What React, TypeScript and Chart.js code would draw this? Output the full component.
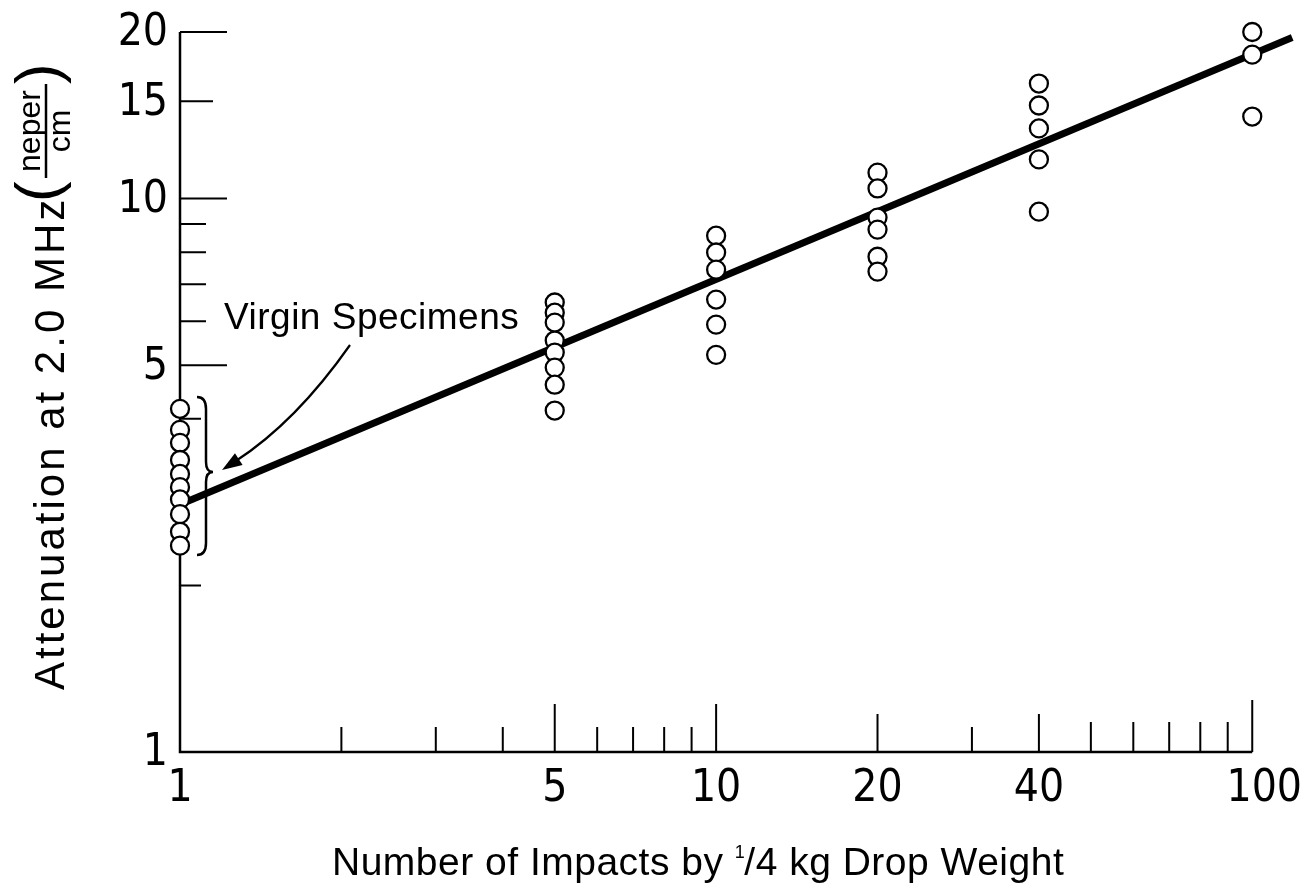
import React, { useEffect, useRef } from "react";
import { Chart, registerables } from "chart.js";

Chart.register(...registerables);

// ---- data ----
const impactCounts = [1, 5, 10, 20, 40, 100];
const attenAt1 = [4.17, 3.82, 3.62, 3.37, 3.18, 3.01, 2.86, 2.69, 2.5, 2.36];
const attenAt5 = [6.49, 6.22, 5.97, 5.54, 5.27, 4.95, 4.61, 4.14];
const attenAt10 = [8.57, 7.99, 7.44, 6.57, 5.92, 5.22];
const attenAt20 = [11.14, 10.43, 9.24, 8.79, 7.85, 7.38];
const attenAt40 = [16.14, 14.73, 13.39, 11.77, 9.47];
const attenAt100 = [20.0, 18.2, 14.07];
const fitX = [1, 118.7];
const fitY = [2.8, 19.55];

const xTickLabels = [1, 5, 10, 20, 40, 100];
const xMajorTicks = [5, 10, 20, 40, 100];
const xMinorTicks = [2, 3, 4, 6, 7, 8, 9, 30, 50, 60, 70, 80, 90];
const yTickLabels = [1, 5, 10, 15, 20];
const yMajorTicks = [5, 10, 20];
const yMidTicks = [15];
const yMinorTicks = [2, 4, 6, 7, 8, 9];

const xTitleA = "Number of Impacts by ";
const xTitleSup = "1";
const xTitleB = "/4 kg Drop Weight";
const yTitle = "Attenuation at 2.0 MHz";
const yUnitNum = "neper";
const yUnitDen = "cm";
const annotationText = "Virgin Specimens";

const FONT = '"Liberation Sans", Arial, sans-serif';
const TICK_FONT = '"Liberation Sans Narrow", "DejaVu Sans Condensed", "Liberation Sans", sans-serif';

const groups = [attenAt1, attenAt5, attenAt10, attenAt20, attenAt40, attenAt100];

function xMajorLen(v: number) {
  if (v === 100) return 52;
  if (v === 20 || v === 40) return 38;
  return 48;
}
function xMinorLen(v: number) {
  return v > 40 ? 30 : 25;
}

const paperPlugin = {
  id: "paperAxes",
  beforeDatasetsDraw(chart: any) {
    const ctx: CanvasRenderingContext2D = chart.ctx;
    const xs = chart.scales.x;
    const ys = chart.scales.y;
    const X = (v: number) => xs.getPixelForValue(v);
    const Y = (v: number) => ys.getPixelForValue(v);
    const x0 = X(1);
    const y0 = Y(1);
    ctx.save();
    ctx.strokeStyle = "#000";
    ctx.fillStyle = "#000";

    // axis lines
    ctx.lineWidth = 2.5;
    ctx.beginPath();
    ctx.moveTo(x0, Y(20));
    ctx.lineTo(x0, y0);
    ctx.lineTo(X(100), y0);
    ctx.stroke();

    // x ticks
    ctx.lineWidth = 2;
    ctx.beginPath();
    xMajorTicks.forEach((v) => {
      ctx.moveTo(X(v), y0);
      ctx.lineTo(X(v), y0 - xMajorLen(v));
    });
    xMinorTicks.forEach((v) => {
      ctx.moveTo(X(v), y0);
      ctx.lineTo(X(v), y0 - xMinorLen(v));
    });
    // y ticks
    yMajorTicks.forEach((v) => {
      ctx.moveTo(x0, Y(v));
      ctx.lineTo(x0 + 47, Y(v));
    });
    yMidTicks.forEach((v) => {
      ctx.moveTo(x0, Y(v));
      ctx.lineTo(x0 + 33, Y(v));
    });
    yMinorTicks.forEach((v) => {
      ctx.moveTo(x0, Y(v));
      ctx.lineTo(x0 + (v < 5 ? 21 : 26), Y(v));
    });
    ctx.stroke();

    // tick labels
    ctx.font = `44px ${TICK_FONT}`;
    ctx.textBaseline = "middle";
    xTickLabels.forEach((v, i) => {
      const last = i === xTickLabels.length - 1;
      ctx.textAlign = last ? "right" : "center";
      ctx.fillText(String(v), last ? 1302 : X(v), 790);
    });
    ctx.textAlign = "right";
    yTickLabels.forEach((v) => {
      ctx.fillText(String(v), 168, Y(v) + 2);
    });

    // x title
    ctx.textBaseline = "alphabetic";
    ctx.textAlign = "left";
    (ctx as any).letterSpacing = "0.5px";
    ctx.font = `39px ${FONT}`;
    let tx = 332;
    ctx.fillText(xTitleA, tx, 875);
    tx += ctx.measureText(xTitleA).width;
    ctx.font = `18px ${FONT}`;
    ctx.fillText(xTitleSup, tx, 858);
    tx += ctx.measureText(xTitleSup).width - 1;
    ctx.font = `39px ${FONT}`;
    ctx.fillText(xTitleB, tx, 875);

    // y title (rotated)
    ctx.save();
    ctx.rotate(-Math.PI / 2);
    (ctx as any).letterSpacing = "3px";
    ctx.font = `42px ${FONT}`;
    ctx.fillText(yTitle, -690, 64);
    (ctx as any).letterSpacing = "0px";
    ctx.font = `62px ${FONT}`;
    ctx.fillText("(", -202, 58);
    ctx.fillText(")", -84, 58);
    ctx.font = `32px ${FONT}`;
    ctx.textAlign = "center";
    ctx.fillText(yUnitNum, -131, 40);
    ctx.fillText(yUnitDen, -131, 70);
    ctx.lineWidth = 2.5;
    ctx.beginPath();
    ctx.moveTo(-178, 46);
    ctx.lineTo(-84, 46);
    ctx.stroke();
    ctx.restore();

    // annotation: text, arrow, brace
    (ctx as any).letterSpacing = "0.5px";
    ctx.font = `37px ${FONT}`;
    ctx.textAlign = "left";
    ctx.fillText(annotationText, 224, 329);

    const p0 = { x: 350, y: 345 };
    const c = { x: 296, y: 422 };
    const tip = { x: 222, y: 470 };
    let dx = tip.x - c.x;
    let dy = tip.y - c.y;
    const dl = Math.hypot(dx, dy);
    dx /= dl;
    dy /= dl;
    const headLen = 20;
    const headW = 7;
    const bx = tip.x - dx * headLen;
    const by = tip.y - dy * headLen;
    ctx.lineWidth = 2.2;
    ctx.beginPath();
    ctx.moveTo(p0.x, p0.y);
    ctx.quadraticCurveTo(c.x, c.y, bx + dx * 4, by + dy * 4);
    ctx.stroke();
    ctx.beginPath();
    ctx.moveTo(tip.x, tip.y);
    ctx.lineTo(bx - dy * headW, by + dx * headW);
    ctx.lineTo(bx + dy * headW, by - dx * headW);
    ctx.closePath();
    ctx.fill();

    ctx.lineWidth = 2.5;
    ctx.beginPath();
    ctx.moveTo(197, 397);
    ctx.quadraticCurveTo(206, 397, 206, 409);
    ctx.lineTo(206, 462);
    ctx.quadraticCurveTo(206, 472, 213, 472);
    ctx.quadraticCurveTo(206, 472, 206, 482);
    ctx.lineTo(206, 543);
    ctx.quadraticCurveTo(206, 555, 197, 555);
    ctx.stroke();

    ctx.restore();
  },
};

export default function App() {
  const ref = useRef<HTMLCanvasElement | null>(null);

  useEffect(() => {
    if (!ref.current) return;
    const pointDatasets = groups.map((vals, gi) => ({
      type: "scatter" as const,
      data: vals.map((v) => ({ x: impactCounts[gi], y: v })),
      pointStyle: "circle",
      pointRadius: 9,
      pointBorderWidth: 2.3,
      pointBackgroundColor: "#ffffff",
      pointBorderColor: "#000000",
      showLine: false,
      order: 0,
      clip: false as any,
    }));
    const fitDataset = {
      type: "scatter" as const,
      data: fitX.map((x, i) => ({ x, y: fitY[i] })),
      showLine: true,
      borderColor: "#000000",
      borderWidth: 7,
      pointRadius: 0,
      order: 1,
      clip: false as any,
    };
    const chart = new Chart(ref.current, {
      type: "scatter",
      data: { datasets: [...pointDatasets, fitDataset] as any },
      options: {
        animation: false,
        responsive: false,
        devicePixelRatio: 1,
        events: [],
        layout: { padding: { left: 180, right: 6, top: 32, bottom: 137 } },
        plugins: {
          legend: { display: false },
          tooltip: { enabled: false },
        },
        scales: {
          x: { type: "logarithmic", min: 1, max: 120, display: false, bounds: "data" },
          y: { type: "logarithmic", min: 1, max: 20, display: false, bounds: "data" },
        },
      },
      plugins: [paperPlugin],
    });
    return () => chart.destroy();
  }, []);

  return (
    <div style={{ position: "fixed", left: 0, top: 0, width: 1306, height: 889, background: "#fff" }}>
      <canvas ref={ref} width={1306} height={889} style={{ width: 1306, height: 889, display: "block" }} />
    </div>
  );
}
